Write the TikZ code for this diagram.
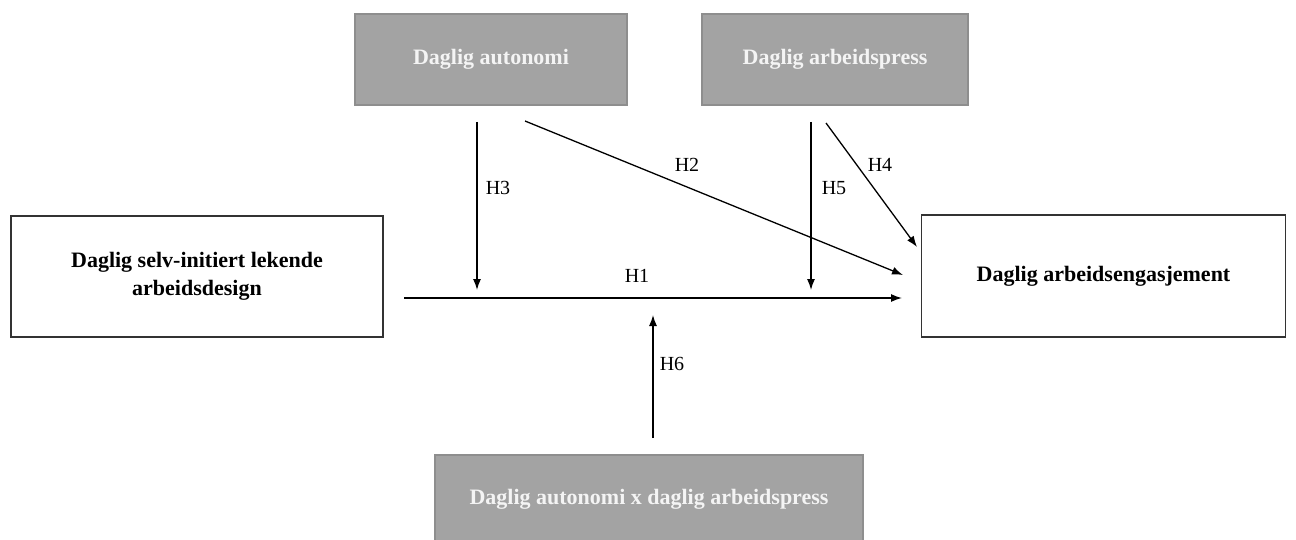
\documentclass[tikz,border=0pt]{standalone}
\usepackage{fontspec}
\setmainfont{Liberation Serif}
\usetikzlibrary{arrows.meta}
\definecolor{boxgray}{HTML}{A3A3A3}
\definecolor{boxedge}{HTML}{8E8E8E}
\definecolor{boxtext}{HTML}{F4F4F4}
\begin{document}
\begin{tikzpicture}[x=1pt,y=-1pt,
  gbox/.style={draw=boxedge, line width=1.2pt, fill=boxgray, text=boxtext, inner sep=0pt,
    font=\fontsize{22}{26}\selectfont\bfseries, align=center},
  wbox/.style={draw=black!80, line width=1.4pt, fill=white, text=black, inner sep=0pt,
    font=\fontsize{22}{28}\selectfont\bfseries, align=center},
  arr/.style={line width=1.3pt, -{Latex[length=11pt,width=8pt]}},
  lbl/.style={font=\fontsize{20}{22}\selectfont, inner sep=0pt}]
\useasboundingbox (0,0) rectangle (1296,540);
\node[gbox, minimum width=272pt, minimum height=91pt] (aut) at (491,59.5) {Daglig autonomi};
\node[gbox, minimum width=266pt, minimum height=91pt] (press) at (835,59.5) {Daglig arbeidspress};
\node[wbox, minimum width=372pt, minimum height=121pt] (sip) at (197,276.5) {Daglig selv-initiert lekende\\arbeidsdesign};
\node[wbox, minimum width=364pt, minimum height=122pt] (eng) at (1103.5,276) {Daglig arbeidsengasjement};
\node[gbox, minimum width=428pt, minimum height=88pt] (int) at (649,499) {Daglig autonomi x daglig arbeidspress};
% coordinates
\coordinate (h1s) at (404,298);
\coordinate (h1e) at (902,298);
\coordinate (h3s) at (477,122);
\coordinate (h3e) at (477,290);
\coordinate (h5s) at (811,122);
\coordinate (h5e) at (811,290);
\coordinate (h2s) at (525,121);
\coordinate (h2e) at (903,275);
\coordinate (h4s) at (826,123);
\coordinate (h4e) at (917,247);
\coordinate (h6s) at (653,438);
\coordinate (h6e) at (653,315);
\draw[arr] (h1s) -- (h1e);
\draw[arr] (h3s) -- (h3e);
\draw[arr] (h5s) -- (h5e);
\draw[arr] (h2s) -- (h2e);
\draw[arr] (h4s) -- (h4e);
\draw[arr] (h6s) -- (h6e);
\node[lbl] (l1) at (637,276) {H1};
\node[lbl] (l2) at (687,165) {H2};
\node[lbl] (l3) at (498,188) {H3};
\node[lbl] (l4) at (880,165) {H4};
\node[lbl] (l5) at (834,188) {H5};
\node[lbl] (l6) at (672,364) {H6};
\end{tikzpicture}
\end{document}
